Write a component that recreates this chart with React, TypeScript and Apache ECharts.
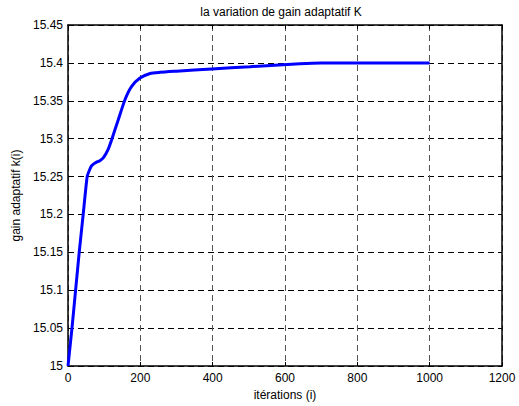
import React, { useEffect, useRef } from "react";
import * as echarts from "echarts";

const titleText = "la variation de gain adaptatif K";
const xAxisName = "itérations (i)";
const yAxisName = "gain adaptatif k(i)";

const iterations = [0, 11, 21, 31, 42, 53, 59, 65, 72, 79, 88, 98, 111, 121, 139, 158, 176, 199, 227, 254, 300, 398, 503, 641, 700, 1000];
const gainK = [15, 15.05, 15.1, 15.15, 15.2, 15.25, 15.258, 15.264, 15.267, 15.269, 15.271, 15.275, 15.286, 15.299, 15.325, 15.352, 15.369, 15.38, 15.386, 15.3875, 15.389, 15.392, 15.395, 15.399, 15.4, 15.4];

const xMin = 0, xMax = 1200, xStep = 200;
const yMin = 15, yMax = 15.45, yStep = 0.05;

export default function App() {
  const ref = useRef<HTMLDivElement>(null);
  useEffect(() => {
    if (!ref.current) return;
    const chart = echarts.init(ref.current, null, { renderer: "svg" });
    const font = "Liberation Sans, Arial, sans-serif";
    const dash = { type: [6, 4] as any, color: "#000", width: 1 };
    const data = iterations.map((x, i) => [x, gainK[i]]);
    chart.setOption({
      animation: false,
      backgroundColor: "#fff",
      textStyle: { fontFamily: font },
      grid: { left: 68, top: 25, width: 434, height: 343, containLabel: false },
      graphic: [
        { type: "text", x: 281, y: 12, style: { text: titleText, font: `12px ${font}`, fill: "#000", align: "center", verticalAlign: "middle" } },
      ],
      xAxis: [
        {
          type: "value", min: xMin, max: xMax, interval: xStep, position: "bottom",
          axisLine: { show: true, onZero: false, lineStyle: { color: "#000", width: 1.5 } },
          axisTick: { show: true, inside: true, length: 4, lineStyle: { color: "#000" } },
          axisLabel: { color: "#000", fontSize: 12, margin: 6, fontFamily: font, formatter: (v: number) => String(v) },
          splitLine: { show: true, lineStyle: { type: [6, 4] as any, color: "#555", width: 1 } },
          name: xAxisName, nameLocation: "middle", nameGap: 23,
          nameTextStyle: { color: "#000", fontSize: 12, fontFamily: font },
        },
        {
          type: "value", min: xMin, max: xMax, interval: xStep, position: "top",
          axisLine: { show: true, onZero: false, lineStyle: { color: "#000", width: 1.5 } },
          axisTick: { show: true, inside: true, length: 4, lineStyle: { color: "#000" } },
          axisLabel: { show: false }, splitLine: { show: false },
        },
      ],
      yAxis: [
        {
          type: "value", min: yMin, max: yMax, interval: yStep, position: "left",
          axisLine: { show: true, onZero: false, lineStyle: { color: "#000", width: 1.5 } },
          axisTick: { show: true, inside: true, length: 4, lineStyle: { color: "#000" } },
          axisLabel: { color: "#000", fontSize: 12, margin: 5, fontFamily: font, formatter: (v: number) => String(parseFloat(v.toFixed(2))) },
          splitLine: { show: true, lineStyle: dash },
          name: yAxisName, nameLocation: "middle", nameGap: 44, nameRotate: 90,
          nameTextStyle: { color: "#000", fontSize: 12, fontFamily: font },
        },
        {
          type: "value", min: yMin, max: yMax, interval: yStep, position: "right",
          axisLine: { show: true, onZero: false, lineStyle: { color: "#000", width: 1.5 } },
          axisTick: { show: true, inside: true, length: 4, lineStyle: { color: "#000" } },
          axisLabel: { show: false }, splitLine: { show: false },
        },
      ],
      series: [
        {
          type: "line", data, xAxisIndex: 0, yAxisIndex: 0,
          showSymbol: false, smooth: 0.2,
          lineStyle: { color: "#0000ff", width: 3 },
        },
      ],
    });
    return () => chart.dispose();
  }, []);
  return <div ref={ref} style={{ width: 519, height: 406, position: "absolute", left: 0, top: 0 }} />;
}
